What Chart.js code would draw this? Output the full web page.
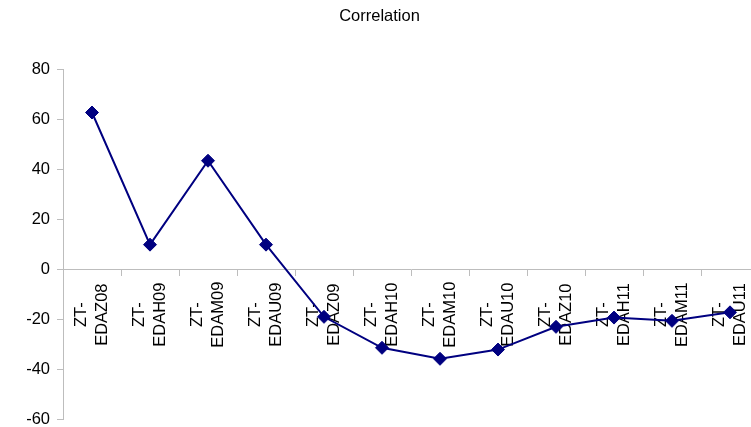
<!DOCTYPE html>
<html>
<head>
<meta charset="utf-8">
<script src="https://cdn.jsdelivr.net/npm/chart.js@4"></script>
<style>
  html, body { margin: 0; padding: 0; background: #fff; overflow: hidden; }
  .wrap { width: 782px; height: 427px; position: relative; }
</style>
</head>
<body>
<div class="wrap"><canvas id="corrChart"></canvas></div>
<script>
const categories = ['ZT-EDAZ08', 'ZT-EDAH09', 'ZT-EDAM09', 'ZT-EDAU09', 'ZT-EDAZ09', 'ZT-EDAH10',
  'ZT-EDAM10', 'ZT-EDAU10', 'ZT-EDAZ10', 'ZT-EDAH11', 'ZT-EDAM11', 'ZT-EDAU11'];
const correlation = [62.9, 10, 43.6, 10, -18.9, -31.3, -35.7, -32, -22.9, -19.2, -20.5, -17.1];
const yTicks = [-60, -40, -20, 0, 20, 40, 60, 80];

const FONT = '"Liberation Sans", Arial, sans-serif';
const axisGray = '#bdbdbd';

// category names sit rotated under the zero line, centred like Excel does it
const categoryLabels = {
  id: 'categoryLabels',
  beforeDatasetsDraw(chart) {
    const { ctx, scales: { x, y } } = chart;
    const zero = y.getPixelForValue(0);
    const lineH = 21;
    ctx.save();
    ctx.font = '16.5px ' + FONT;
    ctx.fillStyle = '#000';
    ctx.textAlign = 'center';
    ctx.textBaseline = 'middle';
    categories.forEach((name, i) => {
      const lines = name.replace('-', '-\n').split('\n');
      ctx.save();
      ctx.translate(x.getPixelForValue(i), zero + 45);
      ctx.rotate(-Math.PI / 2);
      lines.forEach((line, j) => {
        ctx.fillText(line, 0, (j - (lines.length - 1) / 2) * lineH);
      });
      ctx.restore();
    });
    ctx.restore();
  }
};

new Chart(document.getElementById('corrChart').getContext('2d'), {
  type: 'line',
  data: {
    labels: categories,
    datasets: [{
      label: 'Correlation',
      data: correlation,
      borderColor: '#000080',
      backgroundColor: '#000080',
      borderWidth: 2,
      tension: 0,
      pointStyle: 'rectRot',
      pointRadius: 6.5,
      pointBorderWidth: 1,
      pointBackgroundColor: '#000080',
      pointBorderColor: '#000080'
    }]
  },
  options: {
    responsive: true,
    maintainAspectRatio: false,
    animation: false,
    layout: { padding: { top: 0, left: 0, right: 23, bottom: 7 } },
    plugins: {
      legend: { display: false },
      tooltip: { enabled: false },
      title: {
        display: true,
        text: 'Correlation',
        color: '#000',
        font: { family: FONT, size: 16.5, weight: 'normal' },
        padding: { top: 7, bottom: 43 }
      }
    },
    scales: {
      x: {
        position: { y: 0 },
        offset: true,
        border: { color: axisGray, width: 1 },
        grid: { offset: true, drawOnChartArea: false, color: axisGray, tickLength: 6 },
        ticks: { display: false }
      },
      y: {
        min: -60,
        max: 80,
        afterBuildTicks: s => { s.ticks = yTicks.map(v => ({ value: v })); },
        afterFit: s => { s.width = 63; s.paddingBottom = 0; },
        border: { color: axisGray, width: 1 },
        grid: { drawOnChartArea: false, color: axisGray, tickLength: 6 },
        ticks: {
          color: '#000',
          padding: 7,
          font: { family: FONT, size: 16.5 }
        }
      }
    }
  },
  plugins: [categoryLabels]
});
</script>
</body>
</html>
